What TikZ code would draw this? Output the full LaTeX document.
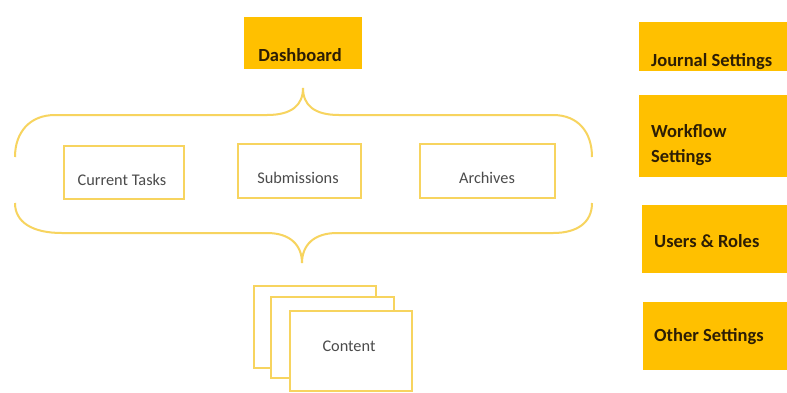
\documentclass[tikz,border=0pt]{standalone}
\usepackage{fontspec}
\setmainfont{Carlito}
\definecolor{gold}{RGB}{255,192,0}
\definecolor{pale}{RGB}{247,212,95}
\definecolor{ink}{RGB}{45,30,5}
\definecolor{greytext}{RGB}{75,75,75}
\begin{document}
\begin{tikzpicture}[x=1pt,y=-1pt,
  goldbox/.style={fill=gold,draw=none,inner sep=0,outer sep=0,anchor=north west},
  outlinebox/.style={draw=pale,line width=2pt,fill=white,inner sep=0,anchor=north west},
  boldlabel/.style={font=\fontsize{18.5}{22}\selectfont\bfseries,text=ink,inner sep=0,anchor=base},
  boldleft/.style={boldlabel,anchor=base west},
  plainlabel/.style={font=\fontsize{16.3}{19}\selectfont,text=greytext,inner sep=0,anchor=base},
  bracepath/.style={draw=pale,line width=2pt}]
\useasboundingbox[fill=white] (0,0) rectangle (787,392);

% Dashboard
\node[goldbox,minimum width=118pt,minimum height=52pt] (dash) at (244,17) {};
\node[boldlabel] (dashtext) at (300,61) {Dashboard};

% top brace
\draw[bracepath] (15,157) .. controls (15,132) and (30,115) .. (55,115)
  -- (267,115) .. controls (292,115) and (303,105) .. (303,88)
  .. controls (303,105) and (314,115) .. (339,115)
  -- (553,115) .. controls (578,115) and (592,132) .. (592,157);

% inner boxes
\node[outlinebox,minimum width=120pt,minimum height=53pt] (tasks) at (63,145) {};
\node[plainlabel] (taskstext) at (122,185) {Current Tasks};
\node[outlinebox,minimum width=123pt,minimum height=54pt] (subs) at (237,143) {};
\node[plainlabel] (substext) at (298,183) {Submissions};
\node[outlinebox,minimum width=135pt,minimum height=54pt] (arch) at (419,143) {};
\node[plainlabel] (archtext) at (487,183) {Archives};

% bottom brace
\draw[bracepath] (15,203) .. controls (15,222) and (32,233) .. (62,233)
  -- (267,233) .. controls (290,233) and (302,245) .. (302,263)
  .. controls (302,245) and (314,233) .. (337,233)
  -- (553,233) .. controls (578,233) and (592,222) .. (592,203);

% content pages
\node[outlinebox,minimum width=122pt,minimum height=82pt] (page1) at (253,285) {};
\node[outlinebox,minimum width=123pt,minimum height=81pt] (page2) at (270,296) {};
\node[outlinebox,minimum width=122pt,minimum height=80pt] (page3) at (289,310) {};
\node[plainlabel] (contenttext) at (349,351) {Content};

% settings boxes
\node[goldbox,minimum width=148pt,minimum height=49pt] (journal) at (639,22) {};
\node[boldleft] (journaltext) at (651,66) {Journal Settings};
\node[goldbox,minimum width=148pt,minimum height=82pt] (workflow) at (639,95) {};
\node[boldleft] (workflowtext1) at (651,137) {Workflow};
\node[boldleft] (workflowtext2) at (651,162) {Settings};
\node[goldbox,minimum width=145pt,minimum height=68pt] (users) at (642,205) {};
\node[boldleft] (userstext) at (654,247) {Users \& Roles};
\node[goldbox,minimum width=144pt,minimum height=68pt] (other) at (643,302) {};
\node[boldleft] (othertext) at (654,341) {Other Settings};
\end{tikzpicture}
\end{document}
